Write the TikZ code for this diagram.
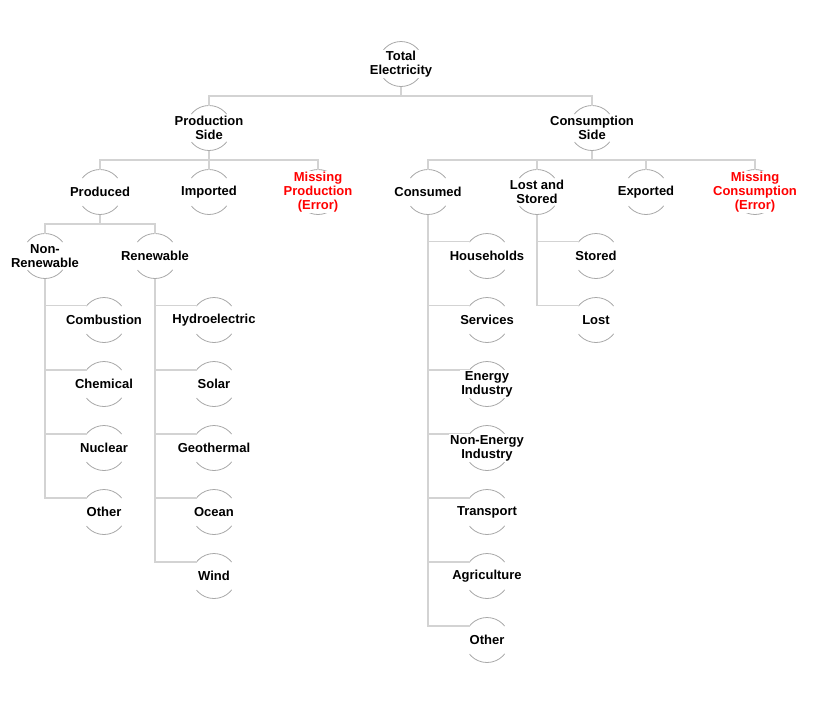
\documentclass[tikz,border=0pt]{standalone}
\usepackage{fontspec}
\setmainfont{Liberation Sans}
\definecolor{linkgray}{RGB}{211,211,211}
\definecolor{ringgray}{RGB}{168,168,168}
\definecolor{errred}{RGB}{255,0,0}

\begin{document}
\begin{tikzpicture}[x=1pt, y=-1pt,
	ring/.style={circle, draw=ringgray, line width=0.8pt, minimum size=45pt, inner sep=0pt, outer sep=0pt,
	  dash pattern=on 40.45pt off 30.24pt, dash phase=55.57pt},
	lbl/.style={fill=white, align=center, inner sep=1pt, minimum height=20pt,
	  font=\bfseries\fontsize{13}{14}\selectfont},
	err/.style={lbl, text=errred},
	link/.style={draw=linkgray, line width=1.3pt}]
	\useasboundingbox (0,0) rectangle (813,705);

	% circles
	\node at (401,64) [ring] (totc) {};
	\node at (209,128) [ring] (prsc) {};
	\node at (592,128) [ring] (cosc) {};
	\node at (100,192) [ring] (prodc) {};
	\node at (209,192) [ring] (impc) {};
	\node at (318,192) [ring] (mprc) {};
	\node at (428,192) [ring] (consc) {};
	\node at (537,192) [ring] (lstc) {};
	\node at (646,192) [ring] (expc) {};
	\node at (755,192) [ring] (mcoc) {};
	\node at (45,256) [ring] (nrenc) {};
	\node at (155,256) [ring] (renc) {};

	\node at (104,320) [ring] (combc) {};
	\node at (104,384) [ring] (chemc) {};
	\node at (104,448) [ring] (nucc) {};
	\node at (104,512) [ring] (nothc) {};

	\node at (214,320) [ring] (hydc) {};
	\node at (214,384) [ring] (solc) {};
	\node at (214,448) [ring] (geoc) {};
	\node at (214,512) [ring] (occ) {};
	\node at (214,576) [ring] (windc) {};

	\node at (487,256) [ring] (houc) {};
	\node at (487,320) [ring] (serc) {};
	\node at (487,384) [ring] (eindc) {};
	\node at (487,448) [ring] (neindc) {};
	\node at (487,512) [ring] (trac) {};
	\node at (487,576) [ring] (agrc) {};
	\node at (487,640) [ring] (cothc) {};

	\node at (596,256) [ring] (stoc) {};
	\node at (596,320) [ring] (lostc) {};

	\draw [link]
	  (totc.south) -- ++(0,9.5) -| (prsc.north)
	  (totc.south) -- ++(0,9.5) -| (cosc.north)
	  (prsc.south) -- ++(0,9.5) -| (prodc.north)
	  (prsc.south) -- ++(0,9.5) -| (impc.north)
	  (prsc.south) -- ++(0,9.5) -| (mprc.north)
	  (cosc.south) -- ++(0,9.5) -| (consc.north)
	  (cosc.south) -- ++(0,9.5) -| (lstc.north)
	  (cosc.south) -- ++(0,9.5) -| (expc.north)
	  (cosc.south) -- ++(0,9.5) -| (mcoc.north)
	  (prodc.south) -- ++(0,9.5) -| (nrenc.north)
	  (prodc.south) -- ++(0,9.5) -| (renc.north)

	  (nrenc.south) |- (combc.141.5)
	  (nrenc.south) |- (chemc.141.5)
	  (nrenc.south) |- (nucc.141.5)
	  (nrenc.south) |- (nothc.141.5)
	  (renc.south) |- (hydc.141.5)
	  (renc.south) |- (solc.141.5)
	  (renc.south) |- (geoc.141.5)
	  (renc.south) |- (occ.141.5)
	  (renc.south) |- (windc.141.5)
	  (consc.south) |- (houc.141.5)
	  (consc.south) |- (serc.141.5)
	  (consc.south) |- (eindc.141.5)
	  (consc.south) |- (neindc.141.5)
	  (consc.south) |- (trac.141.5)
	  (consc.south) |- (agrc.141.5)
	  (consc.south) |- (cothc.141.5)
	  (lstc.south) |- (stoc.141.5)
	  (lstc.south) |- (lostc.141.5)
	;

	% labels
	\node at (totc) [lbl] (tot) {Total\\Electricity};
	\node at (prsc) [lbl] (prs) {Production\\Side};
	\node at (cosc) [lbl] (cos) {Consumption\\Side};
	\node at (prodc) [lbl] (prod) {Produced};
	\node at (impc) [lbl] (imp) {Imported};
	\node at (mprc) [err] (mpr) {Missing\\Production\\(Error)};
	\node at (consc) [lbl] (cons) {Consumed};
	\node at (lstc) [lbl] (lst) {Lost and\\Stored};
	\node at (expc) [lbl] (exp) {Exported};
	\node at (mcoc) [err] (mco) {Missing\\Consumption\\(Error)};
	\node at (nrenc) [lbl] (nren) {Non-\\Renewable};
	\node at (renc) [lbl] (ren) {Renewable};

	\node at (combc) [lbl] (comb) {Combustion};
	\node at (chemc) [lbl] (chem) {Chemical};
	\node at (nucc) [lbl] (nuc) {Nuclear};
	\node at (nothc) [lbl] (noth) {Other};

	\node at (hydc) [lbl] (hyd) {Hydroelectric};
	\node at (solc) [lbl] (sol) {Solar};
	\node at (geoc) [lbl] (geo) {Geothermal};
	\node at (occ) [lbl] (oc) {Ocean};
	\node at (windc) [lbl] (wind) {Wind};

	\node at (houc) [lbl] (hou) {Households};
	\node at (serc) [lbl] (ser) {Services};
	\node at (eindc) [lbl] (eind) {Energy\\Industry};
	\node at (neindc) [lbl] (neind) {Non-Energy\\Industry};
	\node at (trac) [lbl] (tra) {Transport};
	\node at (agrc) [lbl] (agr) {Agriculture};
	\node at (cothc) [lbl] (coth) {Other};

	\node at (stoc) [lbl] (sto) {Stored};
	\node at (lostc) [lbl] (lost) {Lost};

\end{tikzpicture}
\end{document}
